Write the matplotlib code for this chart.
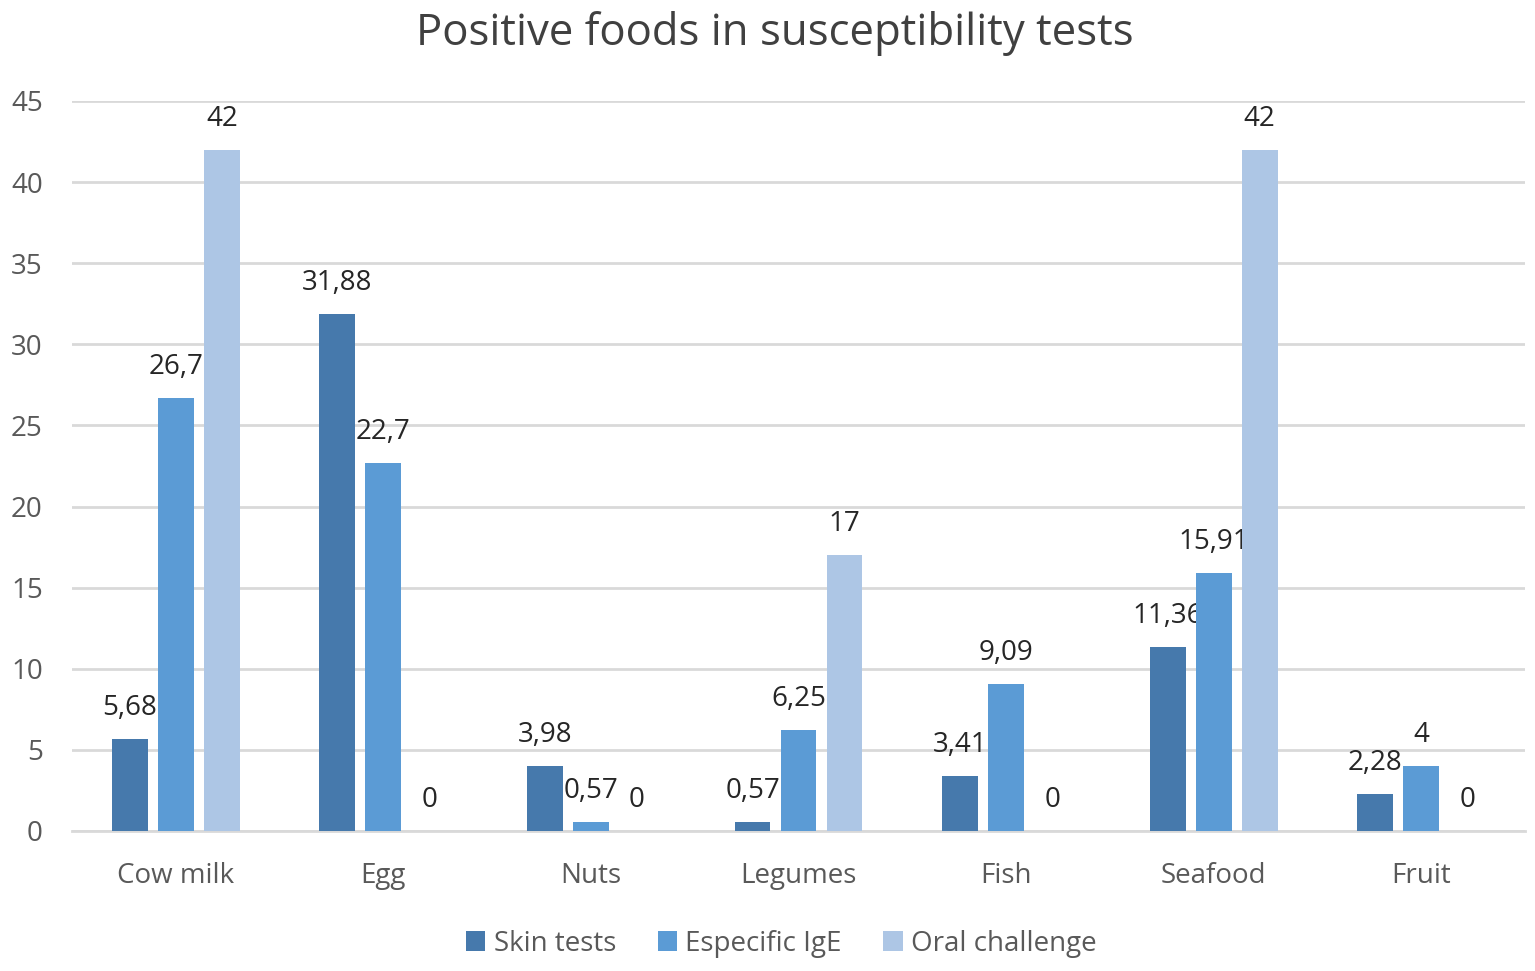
import matplotlib.pyplot as plt
import numpy as np

foods = ['Cow milk', 'Egg', 'Nuts', 'Legumes', 'Fish', 'Seafood', 'Fruit']
skin_tests = [5.68, 31.88, 3.98, 0.57, 3.41, 11.36, 2.28]
especific_ige = [26.7, 22.7, 0.57, 6.25, 9.09, 15.91, 4]
oral_challenge = [42, 0, 0, 17, 0, 42, 0]

series = [
    ('Skin tests', skin_tests, '#4679AC'),
    ('Especific IgE', especific_ige, '#5B9BD5'),
    ('Oral challenge', oral_challenge, '#ADC6E5'),
]

plt.rcParams['font.family'] = ['Open Sans', 'DejaVu Sans']

fig = plt.figure(figsize=(15.35, 9.71), dpi=100)
ax = fig.add_axes([0.0469, 0.1442, 0.9466, 0.7518])

x = np.arange(len(foods))
step = 0.2216
width = 0.173


def fmt(v):
    s = ('%.2f' % v).rstrip('0').rstrip('.')
    return s.replace('.', ',')


for i, (name, vals, color) in enumerate(series):
    pos = x + (i - 1) * step
    ax.bar(pos, vals, width, color=color, label=name, zorder=3)
    for p, v in zip(pos, vals):
        ax.annotate(fmt(v), (p, v), xytext=(0, 31), textcoords='offset pixels',
                    ha='center', va='center', fontsize=20, color='#262626')

ax.set_xlim(-0.5, len(foods) - 0.5)
ax.set_ylim(0, 45)
ax.set_yticks(range(0, 46, 5))
ax.set_xticks(x)
ax.set_xticklabels(foods)
ax.grid(axis='y', color='#D9D9D9', linewidth=2, zorder=0)
ax.tick_params(axis='both', length=0, labelsize=20, labelcolor='#595959')
ax.tick_params(axis='x', pad=22)
ax.tick_params(axis='y', pad=21)
for s in ['top', 'right', 'left']:
    ax.spines[s].set_visible(False)
ax.spines['bottom'].set_color('#D9D9D9')
ax.spines['bottom'].set_linewidth(2)

fig.suptitle('Positive foods in susceptibility tests', x=0.505, y=0.966, va='center',
             fontsize=31.5, color='#404040')
fig.legend(loc='center', bbox_to_anchor=(0.509, 0.028), ncol=3, frameon=False,
           fontsize=20, handlelength=0.7, handleheight=0.7, handletextpad=0.3,
           columnspacing=1.5, labelcolor='#595959')

fig.savefig('out.png', dpi=100)
